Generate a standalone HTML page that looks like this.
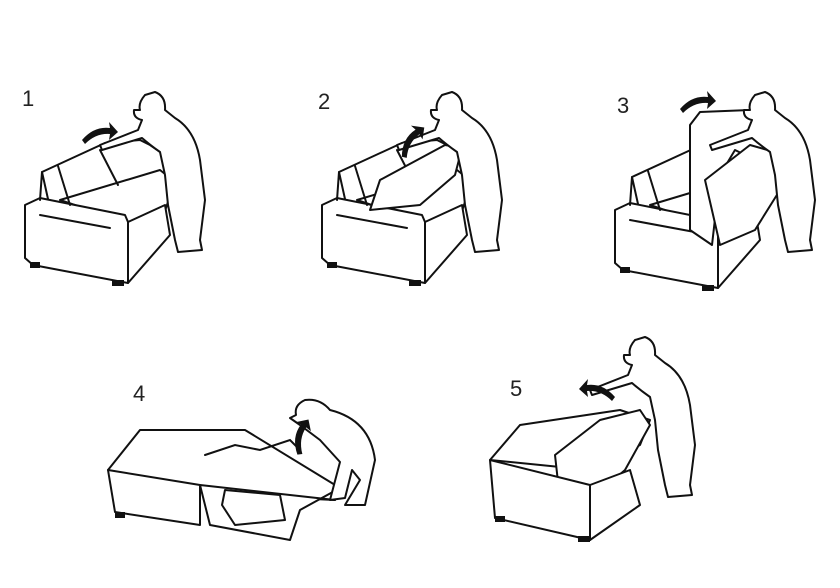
<!DOCTYPE html>
<html><head><meta charset="utf-8"><style>
html,body{margin:0;padding:0;background:#fff;width:840px;height:588px;overflow:hidden}
svg{display:block}
text{font-family:"Liberation Sans",sans-serif;font-size:22px;fill:#222}
.l{fill:#fff;stroke:#111;stroke-width:2;stroke-linejoin:round}
.n{fill:none;stroke:#111;stroke-width:2;stroke-linecap:round}
</style></head><body>
<svg width="840" height="588" viewBox="0 0 840 588">
<defs>
<g id="sofa">
 <!-- back -->
 <path class="l" d="M42,172 L105,143 L140,140 L150,145 L172,160 L170,175 L50,208 Z"/>
 <!-- seat -->
 <path class="l" d="M60,200 L160,170 L175,182 L160,225 L125,222 Z"/>
 <!-- front box -->
 <path class="l" d="M25,205 L40,198 L125,215 L128,222 L128,283 L33,265 L25,258 Z"/>
 <path class="l" d="M128,222 L165,205 L170,235 L128,283 Z"/>
 <path class="n" d="M40,200 L42,172 M58,166 L70,205 M100,150 L118,185 M40,215 L110,228"/>
 <rect x="30" y="262" width="10" height="6" fill="#111"/>
 <rect x="112" y="280" width="12" height="6" fill="#111"/>
</g>
<g id="man">
 <path class="l" d="M145,95 Q138,103 140,110 L134,110 Q133,118 142,120 L138,130 L100,145 L102,150 L142,138 Q150,145 160,152 L165,175 L168,205 L175,240 L178,252 L202,250 L200,240 L205,200 L200,160 Q195,130 175,118 L165,110 Q166,96 155,92 Z"/>
</g>
<path id="arr" d="M0,12 Q12,-2 28,0 L27,-6 L36,4 L27,12 L28,6 Q14,5 3,16 Z" fill="#111"/>
</defs>

<text x="22" y="106">1</text>
<text x="318" y="109">2</text>
<text x="617" y="113">3</text>
<text x="133" y="401">4</text>
<text x="510" y="396">5</text>

<!-- panel 1 -->
<use href="#sofa"/>
<use href="#man"/>
<use href="#arr" x="82" y="128"/>

<!-- panel 2 -->
<use href="#sofa" x="297"/>
<path class="l" d="M370,210 L380,180 L445,145 L462,148 L455,175 L420,205 Z"/>
<use href="#man" x="297" y="0"/>
<use href="#arr" x="395" y="140" transform="rotate(-40 405 145)"/>

<!-- panel 3 -->
<use href="#sofa" x="590" y="5"/>
<path class="l" d="M690,230 L690,125 L700,112 L750,110 L775,125 L770,150 L755,160 L735,150 L720,175 L712,245 Z"/>
<path class="l" d="M705,180 L750,145 L785,155 L780,190 L755,230 L720,245 Z"/>
<use href="#man" x="610" y="0"/>
<use href="#arr" x="680" y="97"/>

<!-- panel 4 -->
<path class="l" d="M108,470 L140,430 L245,430 L340,488 L335,500 L230,495 L108,470 Z"/>
<path class="l" d="M108,470 L200,485 L200,525 L115,512 Z"/>
<path class="l" d="M200,485 L335,500 L340,488 L300,510 L290,540 L210,525 Z"/>
<path class="l" d="M225,490 L280,495 L285,520 L235,525 L222,505 Z"/>
<path class="n" d="M205,455 L235,445 L260,450 L290,440 L300,450"/>
<rect x="115" y="512" width="10" height="6" fill="#111"/>
<path class="l" d="M305,400 Q294,405 296,415 L290,418 L300,425 L320,440 L340,462 L330,500 L345,498 L352,470 L360,480 L345,505 L365,505 L375,460 Q370,420 330,410 Q320,398 305,400 Z"/>
<use href="#arr" x="282" y="440" transform="rotate(-60 292 440)"/>

<!-- panel 5 -->
<path class="l" d="M490,460 L520,425 L620,410 L650,420 L640,445 L590,470 Z"/>
<path class="l" d="M555,455 L600,420 L640,410 L650,425 L625,470 L590,500 L560,500 Z"/>
<path class="l" d="M490,460 L590,485 L590,540 L495,518 Z"/>
<path class="l" d="M590,485 L630,470 L640,505 L590,540 Z"/>
<rect x="495" y="516" width="10" height="6" fill="#111"/>
<rect x="578" y="536" width="12" height="6" fill="#111"/>
<use href="#man" x="490" y="245"/>
<use href="#arr" x="585" y="385" transform="scale(-1,1) translate(-1200,0)"/>
</svg>
</body></html>
